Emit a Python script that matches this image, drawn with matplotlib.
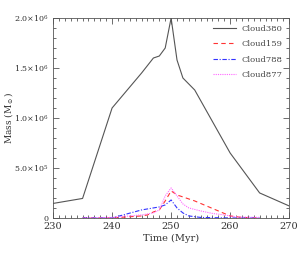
import matplotlib
matplotlib.use("Agg")
import matplotlib.pyplot as plt
from matplotlib.ticker import MultipleLocator, FixedLocator

# Data
t380 = [230, 235, 240, 245, 247, 248, 249, 250, 251, 252, 254, 260, 265, 270]
m380 = [1.45e5, 1.95e5, 1.10e6, 1.45e6, 1.60e6, 1.62e6, 1.70e6, 2.00e6, 1.58e6, 1.40e6, 1.28e6, 0.65e6, 0.25e6, 0.12e6]

t159 = [235, 240, 245, 246, 247, 248, 249, 250, 251, 254, 256, 258, 260, 262, 265]
m159 = [0, 0, 0.02e6, 0.03e6, 0.06e6, 0.08e6, 0.17e6, 0.27e6, 0.23e6, 0.17e6, 0.12e6, 0.07e6, 0.02e6, 0.005e6, 0.0]

t788 = [235, 240, 245, 248, 249, 250, 251, 252, 253, 255, 260, 265]
m788 = [0, 0, 0.08e6, 0.11e6, 0.13e6, 0.18e6, 0.10e6, 0.05e6, 0.02e6, 0.005e6, 0.0, 0.0]

t877 = [235, 240, 243, 245, 247, 248, 249, 250, 251, 252, 253, 255, 257, 259, 261, 265]
m877 = [0, 0.005e6, 0.02e6, 0.03e6, 0.05e6, 0.08e6, 0.22e6, 0.30e6, 0.22e6, 0.14e6, 0.10e6, 0.07e6, 0.045e6, 0.03e6, 0.01e6, 0.005e6]

yticks = [0, 5e5, 1e6, 1.5e6, 2e6]
ylabels = ["0", r"5.0$\times$10$^5$", r"1.0$\times$10$^6$", r"1.5$\times$10$^6$", r"2.0$\times$10$^6$"]
xticks = [230, 240, 250, 260, 270]

plt.rcParams['font.family'] = ['DejaVu Serif']
plt.rcParams['mathtext.fontset'] = 'dejavuserif'

fig = plt.figure(figsize=(3.05, 2.54), dpi=100)
ax = fig.add_axes([0.174, 0.142, 0.774, 0.787])

ax.plot(t380, m380, color='#555555', lw=0.8, label='Cloud380')
ax.plot(t159, m159, color='#ff3333', lw=0.8, ls=(0, (4, 3)), label='Cloud159')
ax.plot(t788, m788, color='#3333ff', lw=0.8, ls=(0, (4, 1.5, 1, 1.5)), label='Cloud788')
ax.plot(t877, m877, color='#ff66ff', lw=0.8, ls=(0, (1, 1)), label='Cloud877')

ax.set_xlim(230, 270)
ax.set_ylim(0, 2e6)
ax.xaxis.set_major_locator(FixedLocator(xticks))
ax.xaxis.set_minor_locator(MultipleLocator(1))
ax.yaxis.set_major_locator(FixedLocator(yticks))
ax.yaxis.set_minor_locator(MultipleLocator(1e5))
ax.set_yticklabels(ylabels)
ax.tick_params(which='both', direction='in', top=True, right=True, colors='#333333', width=0.5)
ax.tick_params(axis='x', labelsize=7)
ax.tick_params(axis='y', labelsize=5.8)
ax.tick_params(which='major', length=4, pad=3)
ax.tick_params(which='minor', length=2)
for s in ax.spines.values():
    s.set_linewidth(0.6)
    s.set_color('#555555')

ax.set_xlabel('Time (Myr)', fontsize=7, color='#333333', labelpad=2)
ax.set_ylabel(r'Mass (M$_\odot$)', fontsize=6.5, color='#333333')
ax.yaxis.set_label_coords(-0.16, 0.5)

leg = ax.legend(loc='upper right', frameon=False, fontsize=6, handlelength=2.8, labelspacing=0.9,
                borderaxespad=0.4, handletextpad=0.6)
for txt in leg.get_texts():
    txt.set_color('#444444')

fig.savefig('out.png', dpi=100)
